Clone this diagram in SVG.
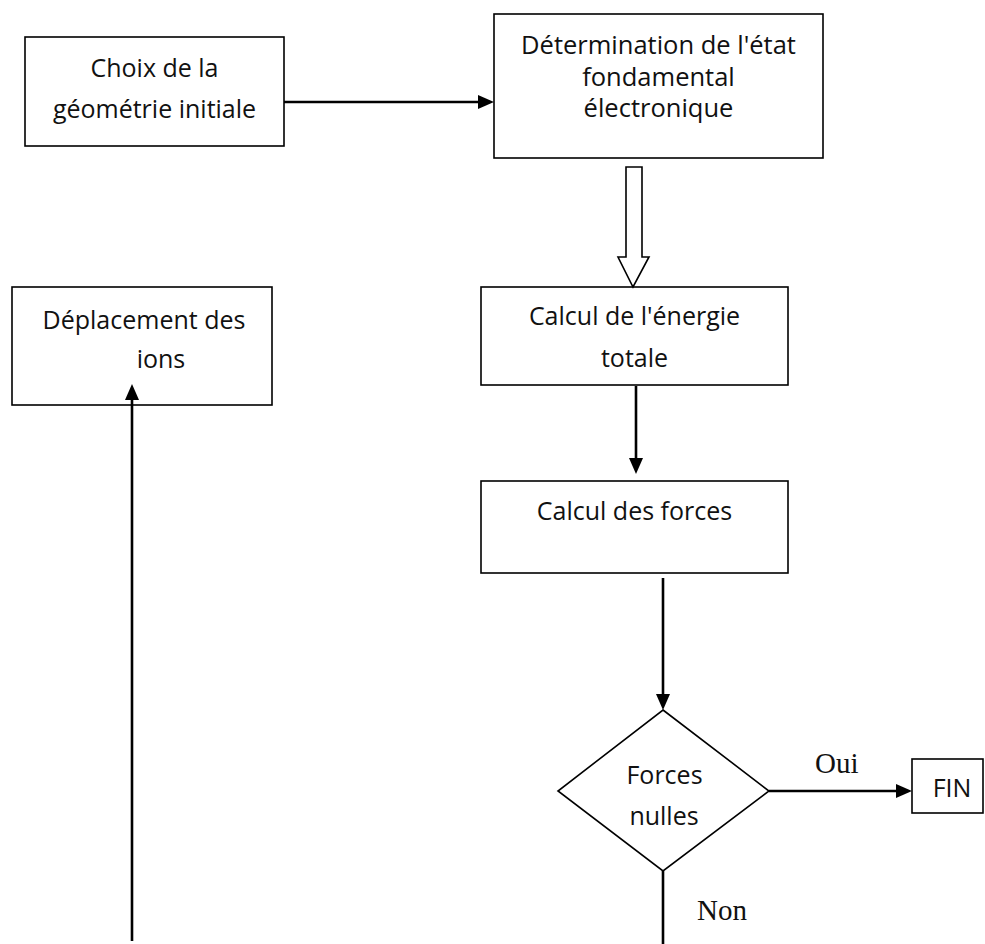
<svg xmlns="http://www.w3.org/2000/svg" width="985" height="944" viewBox="0 0 985 944">
<style>
.box{fill:#fff;stroke:#000;stroke-width:1.6}
.t{font-family:"Open Sans","Liberation Sans",sans-serif;font-size:25px;fill:#111;text-anchor:middle}
.s{font-family:"Liberation Serif","Times New Roman",serif;font-size:29px;fill:#111}
.c{fill:none;stroke:#000;stroke-width:2.6}
</style>
<defs>
<marker id="ah" markerUnits="userSpaceOnUse" markerWidth="16" markerHeight="14" refX="8" refY="7" orient="auto" viewBox="0 0 16 14">
<path d="M0,0 L16,7 L0,14 z" fill="#000"/>
</marker>
</defs>
<rect width="985" height="944" fill="#fff"/>
<g id="choix">
<rect class="box" x="25" y="37" width="259" height="109"/>
<text class="t" x="154.5" y="77">Choix de la</text>
<text class="t" x="154.5" y="118">géométrie initiale</text>
</g>
<g id="etat">
<rect class="box" x="494" y="14" width="329" height="144"/>
<text class="t" x="658.5" y="54" style="font-size:25.5px">Détermination de l'état</text>
<text class="t" x="658.5" y="86" style="font-size:25.5px">fondamental</text>
<text class="t" x="658.5" y="117" style="font-size:25.5px">électronique</text>
</g>
<g id="deplacement">
<rect class="box" x="12" y="287" width="260" height="118"/>
<text class="t" x="144" y="329">Déplacement des</text>
<text class="t" x="161" y="368">ions</text>
</g>
<g id="energie">
<rect class="box" x="481" y="287" width="307" height="98"/>
<text class="t" x="634.5" y="325">Calcul de l'énergie</text>
<text class="t" x="634.5" y="367">totale</text>
</g>
<g id="forces">
<rect class="box" x="481" y="481" width="307" height="92"/>
<text class="t" x="634.5" y="520">Calcul des forces</text>
</g>
<g id="decision">
<polygon class="box" points="663,710 769,791 663,871 558,791"/>
<text class="t" x="664.5" y="784">Forces</text>
<text class="t" x="664" y="825">nulles</text>
</g>
<g id="fin">
<rect class="box" x="912" y="759" width="71" height="54"/>
<text class="t" x="952" y="797">FIN</text>
</g>
<g id="connectors">
<line class="c" x1="284" y1="102" x2="486" y2="102" marker-end="url(#ah)"/>
<polygon points="626,167 642,167 642,257 649,257 633,287 618,257 626,257" fill="#fff" stroke="#000" stroke-width="1.6"/>
<line class="c" x1="636" y1="386" x2="636" y2="466" marker-end="url(#ah)"/>
<line class="c" x1="663" y1="578" x2="663" y2="702" marker-end="url(#ah)"/>
<line class="c" x1="769" y1="791" x2="904" y2="791" marker-end="url(#ah)"/>
<line class="c" x1="663" y1="871" x2="663" y2="944"/>
<line class="c" x1="132" y1="941" x2="132" y2="392" marker-end="url(#ah)"/>
<text class="s" x="815" y="773">Oui</text>
<text class="s" x="697" y="920">Non</text>
</g>
</svg>
